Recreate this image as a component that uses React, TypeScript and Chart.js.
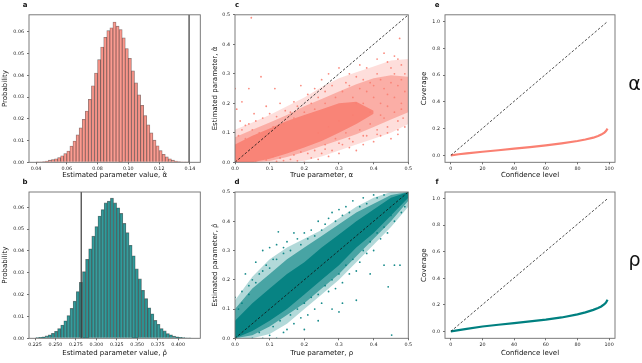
import React, { useEffect, useRef } from "react";
import { Chart, registerables } from "chart.js";

Chart.register(...registerables);

const W = 642;
const H = 363;
const FONT = "'DejaVu Sans', 'Liberation Sans', sans-serif";
const TICK_SIZE = 4.8;
const TITLE_SIZE = 7;

const SALMON = "250,128,114";
const TEAL = "0,128,128";

// ---------- a: distribution of the estimated alpha ----------
const alphaBinStart = 0.04;
const alphaBinWidth = 0.002;
const alphaProbability = [
  0.0001, 0.0002, 0.0003, 0.0006, 0.001, 0.0013, 0.0016, 0.0022, 0.003, 0.004,
  0.0052, 0.0075, 0.0098, 0.0126, 0.0158, 0.0198, 0.0236, 0.029, 0.0352, 0.041,
  0.0472, 0.053, 0.0575, 0.0605, 0.0618, 0.0645, 0.0626, 0.061, 0.0572, 0.0523,
  0.0478, 0.042, 0.0365, 0.031, 0.0262, 0.0215, 0.0172, 0.0135, 0.0102, 0.0076,
  0.0054, 0.0037, 0.0025, 0.0016, 0.001, 0.0006, 0.0003, 0.0002, 0.0001, 0.0001,
];
const alphaTrueValue = 0.1395;

// ---------- b: distribution of the estimated rho ----------
const rhoBinStart = 0.226;
const rhoBinWidth = 0.0038;
const rhoProbability = [
  0.0003, 0.0004, 0.0007, 0.0011, 0.0016, 0.0023, 0.0032, 0.0045, 0.0061, 0.008,
  0.0104, 0.0137, 0.017, 0.0214, 0.0256, 0.0305, 0.0362, 0.041, 0.0468, 0.0512,
  0.056, 0.059, 0.062, 0.0628, 0.0642, 0.062, 0.0598, 0.0572, 0.0526, 0.0484,
  0.0426, 0.0378, 0.0318, 0.0272, 0.022, 0.0182, 0.014, 0.0112, 0.0082, 0.0064,
  0.0045, 0.0034, 0.0022, 0.0016, 0.001, 0.0007, 0.0004, 0.0003, 0.0002, 0.0001,
];
const rhoTrueValue = 0.2815;

const alphaHistTicks = [0.04, 0.06, 0.08, 0.1, 0.12, 0.14];
const rhoHistTicks = [0.225, 0.25, 0.275, 0.3, 0.325, 0.35, 0.375, 0.4];
const probabilityTicks = [0, 0.01, 0.02, 0.03, 0.04, 0.05, 0.06];

// ---------- c: estimated vs true alpha ----------
const parameterTicks = [0, 0.1, 0.2, 0.3, 0.4, 0.5];
const cloudTrue = [0, 0.05, 0.1, 0.15, 0.2, 0.25, 0.3, 0.35, 0.4, 0.45, 0.5];
const alphaOuterLow = [0, 0, 0, 0, 0.005, 0.02, 0.04, 0.06, 0.08, 0.1, 0.13];
const alphaOuterHigh = [0.11, 0.135, 0.16, 0.19, 0.22, 0.255, 0.285, 0.305, 0.325, 0.345, 0.35];
const alphaMidLow = [0, 0, 0.004, 0.018, 0.035, 0.055, 0.075, 0.095, 0.12, 0.145, 0.17];
const alphaMidHigh = [0.085, 0.11, 0.135, 0.16, 0.19, 0.215, 0.24, 0.265, 0.285, 0.295, 0.29];
const alphaCoreTrue = [0, 0.05, 0.1, 0.15, 0.2, 0.25, 0.3, 0.35, 0.4];
const alphaCoreLow = [0, 0, 0.012, 0.03, 0.05, 0.072, 0.1, 0.13, 0.165];
const alphaCoreHigh = [0.06, 0.09, 0.115, 0.14, 0.16, 0.18, 0.2, 0.205, 0.175];
const alphaSparse: [number, number][] = [
  [0.047, 0.49], [0.475, 0.42], [0.0, 0.25], [0.04, 0.25], [0.115, 0.25], [0.075, 0.29],
  [0.19, 0.26], [0.02, 0.205], [0.005, 0.18], [0.055, 0.165], [0.09, 0.19], [0.13, 0.2],
  [0.015, 0.14], [0.03, 0.125], [0.06, 0.14], [0.1, 0.165], [0.145, 0.175], [0.17, 0.205],
  [0.21, 0.23], [0.23, 0.25], [0.25, 0.28], [0.27, 0.3], [0.3, 0.32], [0.33, 0.3],
  [0.36, 0.33], [0.38, 0.32], [0.41, 0.35], [0.43, 0.37], [0.44, 0.34], [0.46, 0.36],
  [0.47, 0.35], [0.48, 0.33], [0.49, 0.3], [0.45, 0.27], [0.42, 0.28], [0.39, 0.27],
  [0.35, 0.29], [0.32, 0.27], [0.28, 0.26], [0.26, 0.24], [0.24, 0.22], [0.22, 0.2],
  [0.18, 0.19], [0.16, 0.17], [0.12, 0.155], [0.08, 0.15], [0.04, 0.13], [0.02, 0.11],
  [0.2, 0.0], [0.24, 0.01], [0.27, 0.02], [0.3, 0.03], [0.33, 0.05], [0.35, 0.04],
  [0.37, 0.06], [0.4, 0.07], [0.42, 0.09], [0.45, 0.08], [0.47, 0.11], [0.49, 0.12],
  [0.44, 0.12], [0.41, 0.11], [0.38, 0.09], [0.34, 0.07], [0.31, 0.06], [0.28, 0.04],
  [0.25, 0.03], [0.22, 0.015], [0.18, 0.005], [0.16, 0.01], [0.485, 0.15], [0.48, 0.2],
  [0.49, 0.24], [0.47, 0.26], [0.46, 0.22], [0.44, 0.19], [0.43, 0.25], [0.4, 0.22],
  [0.37, 0.2], [0.36, 0.25], [0.34, 0.22], [0.12, 0.003], [0.14, 0.006], [0.21, 0.03],
  [0.26, 0.06], [0.29, 0.08], [0.32, 0.1], [0.36, 0.11], [0.39, 0.13], [0.43, 0.15],
  [0.46, 0.17], [0.48, 0.18], [0.31, 0.24], [0.33, 0.26], [0.35, 0.2], [0.38, 0.24],
  [0.4, 0.26], [0.42, 0.2], [0.44, 0.23], [0.46, 0.3], [0.48, 0.28], [0.45, 0.32],
  [0.41, 0.3], [0.37, 0.28], [0.34, 0.16], [0.39, 0.17], [0.42, 0.16], [0.47, 0.14],
  [0.3, 0.14], [0.27, 0.12], [0.24, 0.1], [0.29, 0.22], [0.26, 0.2], [0.23, 0.18],
  [0.2, 0.17], [0.17, 0.15], [0.14, 0.13], [0.11, 0.12], [0.07, 0.1], [0.05, 0.11],
  [0.01, 0.09], [0.03, 0.08], [0.06, 0.005], [0.09, 0.008], [0.11, 0.02], [0.13, 0.015],
  [0.17, 0.025], [0.19, 0.035], [0.23, 0.04], [0.26, 0.045], [0.3, 0.065], [0.33, 0.08],
  [0.37, 0.09], [0.41, 0.095], [0.44, 0.1], [0.47, 0.095],
];

// ---------- d: estimated vs true rho ----------
const rhoOuterLow = [0, 0, 0.015, 0.05, 0.1, 0.15, 0.2, 0.26, 0.32, 0.38, 0.45];
const rhoOuterHigh = [0.13, 0.21, 0.27, 0.31, 0.34, 0.37, 0.41, 0.45, 0.48, 0.5, 0.5];
const rhoMidLow = [0, 0.01, 0.04, 0.08, 0.12, 0.17, 0.22, 0.28, 0.34, 0.4, 0.47];
const rhoMidHigh = [0.1, 0.17, 0.22, 0.27, 0.31, 0.35, 0.39, 0.43, 0.46, 0.49, 0.5];
const rhoCoreLow = [0, 0.025, 0.06, 0.1, 0.15, 0.2, 0.25, 0.31, 0.36, 0.42, 0.48];
const rhoCoreHigh = [0.06, 0.12, 0.17, 0.22, 0.26, 0.31, 0.355, 0.4, 0.44, 0.48, 0.5];
const rhoSparse: [number, number][] = [
  [0.452, 0.011], [0.476, 0.25], [0.46, 0.25], [0.442, 0.176], [0.125, 0.364], [0.17, 0.36],
  [0.1, 0.31], [0.08, 0.3], [0.06, 0.26], [0.03, 0.22], [0.02, 0.16], [0.0, 0.14],
  [0.01, 0.1], [0.12, 0.32], [0.15, 0.33], [0.2, 0.36], [0.22, 0.37], [0.24, 0.4],
  [0.27, 0.41], [0.3, 0.44], [0.32, 0.45], [0.34, 0.47], [0.37, 0.48], [0.4, 0.49],
  [0.28, 0.43], [0.26, 0.39], [0.18, 0.34], [0.14, 0.29], [0.11, 0.27], [0.09, 0.25],
  [0.05, 0.2], [0.04, 0.18], [0.07, 0.22], [0.08, 0.0], [0.1, 0.01], [0.12, 0.0],
  [0.14, 0.02], [0.15, 0.03], [0.17, 0.05], [0.19, 0.07], [0.21, 0.08], [0.23, 0.1],
  [0.25, 0.12], [0.27, 0.16], [0.29, 0.17], [0.31, 0.19], [0.33, 0.22], [0.35, 0.23],
  [0.36, 0.26], [0.38, 0.29], [0.4, 0.3], [0.42, 0.34], [0.44, 0.36], [0.46, 0.4],
  [0.48, 0.43], [0.49, 0.45], [0.2, 0.03], [0.28, 0.1], [0.31, 0.12], [0.24, 0.06],
  [0.35, 0.13], [0.3, 0.09], [0.43, 0.25], [0.39, 0.22], [0.02, 0.12], [0.04, 0.15],
  [0.06, 0.19], [0.08, 0.23], [0.1, 0.24], [0.12, 0.27], [0.14, 0.31], [0.16, 0.3],
  [0.19, 0.32], [0.21, 0.34], [0.23, 0.35], [0.25, 0.37], [0.29, 0.4], [0.31, 0.42],
  [0.33, 0.43], [0.36, 0.45], [0.38, 0.46], [0.41, 0.48], [0.43, 0.49], [0.05, 0.0],
  [0.07, 0.02], [0.11, 0.04], [0.13, 0.06], [0.16, 0.08], [0.18, 0.1], [0.2, 0.12],
  [0.22, 0.14], [0.24, 0.15], [0.26, 0.18], [0.28, 0.2], [0.3, 0.22], [0.32, 0.25],
  [0.34, 0.27], [0.37, 0.3], [0.39, 0.33], [0.41, 0.36], [0.43, 0.38], [0.45, 0.42],
  [0.47, 0.45],
];

// ---------- e, f: coverage against confidence level ----------
const confidenceLevels = [0, 5, 10, 20, 30, 40, 50, 60, 70, 80, 85, 90, 93, 95, 97, 98, 99];
const coverageAlpha = [0, 0.008, 0.015, 0.027, 0.038, 0.05, 0.062, 0.075, 0.09, 0.107, 0.118, 0.132, 0.145, 0.155, 0.17, 0.182, 0.2];
const coverageRho = [0, 0.01, 0.019, 0.037, 0.05, 0.063, 0.075, 0.088, 0.105, 0.128, 0.143, 0.162, 0.176, 0.188, 0.205, 0.217, 0.238];
const confidenceTicks = [0, 20, 40, 60, 80, 100];
const coverageTicks = [0, 0.2, 0.4, 0.6, 0.8, 1.0];

type Box = { L: number; T: number; R: number; B: number; yTitleX: number; xTitleY: number };

const boxA: Box = { L: 29, T: 14.8, R: 200.3, B: 162.3, yTitleX: 5.5, xTitleY: 175 };
const boxB: Box = { L: 29, T: 192, R: 200.3, B: 338.3, yTitleX: 5.5, xTitleY: 353.5 };
const boxC: Box = { L: 235, T: 14.8, R: 408.3, B: 162.3, yTitleX: 215, xTitleY: 175 };
const boxD: Box = { L: 235, T: 192, R: 408.3, B: 338.3, yTitleX: 215, xTitleY: 353.5 };
const boxE: Box = { L: 445, T: 14.8, R: 615, B: 162.3, yTitleX: 424, xTitleY: 175 };
const boxF: Box = { L: 445, T: 192, R: 615, B: 338.3, yTitleX: 424, xTitleY: 353.5 };

const HALF_TITLE = (TITLE_SIZE * 1.2) / 2;

function yWidth(b: Box) {
  return b.L - b.yTitleX + HALF_TITLE;
}
function xHeight(b: Box) {
  return b.xTitleY + HALF_TITLE - b.B;
}

function axis(
  kind: "x" | "y",
  box: Box,
  min: number,
  max: number,
  ticks: number[],
  fmt: (v: number) => string,
  title: string
) {
  const size = kind === "y" ? yWidth(box) : xHeight(box);
  return {
    type: "linear",
    position: kind === "y" ? "left" : "bottom",
    min,
    max,
    offset: false,
    afterBuildTicks: (s: any) => {
      s.ticks = ticks.map((v) => ({ value: v }));
    },
    afterFit: (s: any) => {
      if (kind === "y") s.width = size;
      else s.height = size;
    },
    grid: {
      drawOnChartArea: false,
      drawTicks: true,
      tickLength: 2,
      tickWidth: 0.7,
      tickColor: "#333",
      offset: false,
    },
    border: { display: false },
    ticks: {
      autoSkip: false,
      maxRotation: 0,
      minRotation: 0,
      padding: kind === "y" ? 3 : 1.8,
      color: "#222",
      font: { family: FONT, size: TICK_SIZE },
      callback: (v: any) => fmt(Number(v)),
    },
    title: {
      display: true,
      text: title,
      color: "#111",
      font: { family: FONT, size: TITLE_SIZE },
      padding: 0,
    },
  };
}

// Draws the four-sided frame around the plotting area.
const framePlugin = {
  id: "frame",
  afterDatasetsDraw(chart: any) {
    const { ctx, chartArea: a } = chart;
    ctx.save();
    ctx.strokeStyle = "#6e6e6e";
    ctx.lineWidth = 0.9;
    ctx.strokeRect(a.left, a.top, a.right - a.left, a.bottom - a.top);
    ctx.restore();
  },
};

function baseOptions(box: Box, scales: any) {
  return {
    responsive: false,
    maintainAspectRatio: false,
    animation: false,
    devicePixelRatio: 1,
    events: [],
    layout: {
      padding: {
        left: box.L - yWidth(box),
        top: box.T,
        right: W - box.R,
        bottom: H - box.B - xHeight(box),
      },
    },
    plugins: {
      legend: { display: false },
      tooltip: { enabled: false },
      title: { display: false },
    },
    scales,
  };
}

const f2 = (v: number) => v.toFixed(2);
const f3 = (v: number) => v.toFixed(3);
const f1 = (v: number) => v.toFixed(1);
const f0 = (v: number) => String(Math.round(v));

function histogramConfig(
  box: Box,
  binStart: number,
  binWidth: number,
  probs: number[],
  trueValue: number,
  color: string,
  xMin: number,
  xMax: number,
  yMax: number,
  xTicks: number[],
  xFmt: (v: number) => string,
  xTitle: string
) {
  return {
    type: "bar",
    data: {
      datasets: [
        {
          type: "line",
          data: [
            { x: trueValue, y: 0 },
            { x: trueValue, y: yMax },
          ],
          borderColor: "#3a3a3a",
          borderWidth: 1.2,
          pointRadius: 0,
          order: 0,
        },
        {
          type: "bar",
          data: probs.map((p, i) => ({ x: binStart + (i + 0.5) * binWidth, y: p })),
          backgroundColor: `rgba(${color},0.78)`,
          borderColor: "rgba(40,30,30,0.6)",
          borderWidth: 0.6,
          barPercentage: 1,
          categoryPercentage: 1,
          order: 1,
        },
      ],
    },
    options: baseOptions(box, {
      x: axis("x", box, xMin, xMax, xTicks, xFmt, xTitle),
      y: axis("y", box, 0, yMax, probabilityTicks, f2, "Probability"),
    }),
    plugins: [framePlugin],
  };
}

function band(xs: number[], low: number[], high: number[], color: string, alpha: number, order: number) {
  return [
    {
      type: "line",
      data: xs.map((x, i) => ({ x, y: low[i] })),
      borderColor: "rgba(0,0,0,0)",
      borderWidth: 0,
      pointRadius: 0,
      fill: false,
      order,
    },
    {
      type: "line",
      data: xs.map((x, i) => ({ x, y: high[i] })),
      borderColor: "rgba(0,0,0,0)",
      borderWidth: 0,
      pointRadius: 0,
      fill: "-1",
      backgroundColor: `rgba(${color},${alpha})`,
      order,
    },
  ];
}

function scatterConfig(
  box: Box,
  color: string,
  outer: [number[], number[]],
  mid: [number[], number[]],
  coreX: number[],
  core: [number[], number[]],
  sparse: [number, number][],
  alphas: [number, number, number],
  xTitle: string,
  yTitle: string
) {
  return {
    type: "scatter",
    data: {
      datasets: [
        ...band(cloudTrue, outer[0], outer[1], color, alphas[0], 6),
        ...band(cloudTrue, mid[0], mid[1], color, alphas[1], 5),
        ...band(coreX, core[0], core[1], color, alphas[2], 4),
        {
          type: "scatter",
          data: sparse.map(([x, y]) => ({ x, y })),
          pointRadius: 0.9,
          pointBackgroundColor: `rgba(${color},0.9)`,
          pointBorderWidth: 0,
          order: 2,
        },
        {
          type: "line",
          data: [
            { x: 0, y: 0 },
            { x: 0.5, y: 0.5 },
          ],
          borderColor: "#111",
          borderWidth: 0.8,
          borderDash: [2.5, 1.8],
          pointRadius: 0,
          fill: false,
          order: 1,
        },
      ],
    },
    options: baseOptions(box, {
      x: axis("x", box, 0, 0.5, parameterTicks, f1, xTitle),
      y: axis("y", box, 0, 0.5, parameterTicks, f1, yTitle),
    }),
    plugins: [framePlugin],
  };
}

function coverageConfig(box: Box, coverage: number[], color: string) {
  return {
    type: "line",
    data: {
      datasets: [
        {
          data: [
            { x: 0, y: 0 },
            { x: 99, y: 1 },
          ],
          borderColor: "#222",
          borderWidth: 0.8,
          borderDash: [2.5, 1.8],
          pointRadius: 0,
          order: 0,
        },
        {
          data: confidenceLevels.map((c, i) => ({ x: c, y: coverage[i] })),
          borderColor: `rgb(${color})`,
          borderWidth: 2.2,
          pointRadius: 0,
          tension: 0,
          order: 1,
        },
      ],
    },
    options: baseOptions(box, {
      x: axis("x", box, -3.7, 103.7, confidenceTicks, f0, "Confidence level"),
      y: axis("y", box, -0.052, 1.05, coverageTicks, f1, "Coverage"),
    }),
    plugins: [framePlugin],
  };
}

const panelConfigs: Array<() => any> = [
  () =>
    histogramConfig(boxA, alphaBinStart, alphaBinWidth, alphaProbability, alphaTrueValue, SALMON,
      0.0354, 0.1468, 0.0678, alphaHistTicks, f2, "Estimated parameter value, \u03b1\u0302"),
  () =>
    histogramConfig(boxB, rhoBinStart, rhoBinWidth, rhoProbability, rhoTrueValue, TEAL,
      0.2176, 0.4272, 0.067, rhoHistTicks, f3, "Estimated parameter value, \u03c1\u0302"),
  () =>
    scatterConfig(boxC, SALMON, [alphaOuterLow, alphaOuterHigh], [alphaMidLow, alphaMidHigh],
      alphaCoreTrue, [alphaCoreLow, alphaCoreHigh], alphaSparse, [0.26, 0.5, 0.9],
      "True parameter, \u03b1", "Estimated parameter, \u03b1\u0302"),
  () =>
    scatterConfig(boxD, TEAL, [rhoOuterLow, rhoOuterHigh], [rhoMidLow, rhoMidHigh],
      cloudTrue, [rhoCoreLow, rhoCoreHigh], rhoSparse, [0.3, 0.6, 0.9],
      "True parameter, \u03c1", "Estimated parameter, \u03c1\u0302"),
  () => coverageConfig(boxE, coverageAlpha, SALMON),
  () => coverageConfig(boxF, coverageRho, TEAL),
];

function Panel({ make }: { make: () => any }) {
  const ref = useRef<HTMLCanvasElement>(null);
  useEffect(() => {
    const chart = new Chart(ref.current as HTMLCanvasElement, make());
    return () => chart.destroy();
  }, [make]);
  return (
    <canvas
      ref={ref}
      width={W}
      height={H}
      style={{ position: "absolute", left: 0, top: 0, width: W, height: H }}
    />
  );
}

function Tag({ x, y, size, bold, children }: { x: number; y: number; size: number; bold?: boolean; children: React.ReactNode }) {
  return (
    <div
      style={{
        position: "absolute",
        left: x,
        top: y,
        transform: "translate(-50%, -50%)",
        fontFamily: FONT,
        fontSize: size,
        fontWeight: bold ? "bold" : "normal",
        lineHeight: 1,
        whiteSpace: "nowrap",
        color: "#111",
      }}
    >
      {children}
    </div>
  );
}

export default function App() {
  return (
    <div
      style={{
        position: "fixed",
        left: 0,
        top: 0,
        width: W,
        height: H,
        background: "#fff",
        overflow: "hidden",
      }}
    >
      {panelConfigs.map((make, i) => (
        <Panel key={i} make={make} />
      ))}
      <Tag x={25} y={5} size={7} bold>a</Tag>
      <Tag x={25} y={182} size={7} bold>b</Tag>
      <Tag x={237} y={5} size={7} bold>c</Tag>
      <Tag x={237} y={182} size={7} bold>d</Tag>
      <Tag x={437} y={5} size={7} bold>e</Tag>
      <Tag x={437} y={182} size={7} bold>f</Tag>
      <Tag x={634.5} y={82.6} size={19}>{"\u03b1"}</Tag>
      <Tag x={634.5} y={258.6} size={19}>{"\u03c1"}</Tag>
    </div>
  );
}
